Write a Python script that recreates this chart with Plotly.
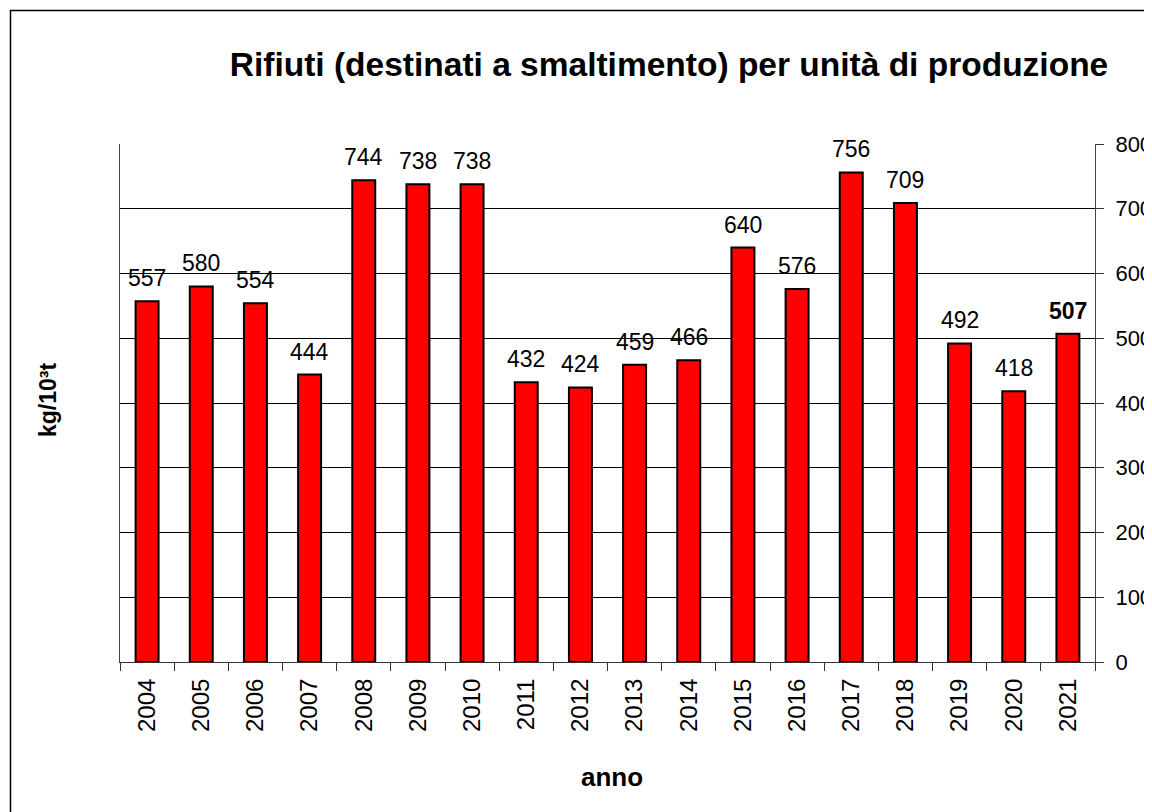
import plotly.graph_objects as go

years = ["2004", "2005", "2006", "2007", "2008", "2009", "2010", "2011", "2012",
         "2013", "2014", "2015", "2016", "2017", "2018", "2019", "2020", "2021"]
values = [557, 580, 554, 444, 744, 738, 738, 432, 424, 459, 466, 640, 576, 756, 709, 492, 418, 507]
labels = [str(v) for v in values[:-1]] + ["<b>%d</b>" % values[-1]]
yticks = [0, 100, 200, 300, 400, 500, 600, 700, 800]

FONT = "Liberation Sans, Arial, sans-serif"
OFF = 8  # browser body margin

W, H = 1152 - OFF, 812 - OFF
L, T = 120 - OFF, 144 - OFF
R = W - (1095 - OFF)
B = H - (662 - OFF)
pw, ph = W - L - R, H - T - B


def px(xp):
    return (xp - OFF - L) / pw


def py(yp):
    return (H - B - (yp - OFF)) / ph


fig = go.Figure(go.Bar(
    x=years, y=values,
    marker=dict(color="#ff0000", line=dict(color="black", width=2)),
    cliponaxis=False,
))

annotations = [dict(x=i, y=v, text=t, xref="x", yref="y", showarrow=False,
                    yanchor="bottom", xanchor="center", yshift=8,
                    font=dict(size=23, family=FONT, color="black"))
               for i, (v, t) in enumerate(zip(values, labels))]
annotations.append(dict(text="<b>kg/10³t</b>", xref="paper", yref="paper",
                        x=px(48), y=py(400), textangle=-90, showarrow=False,
                        font=dict(size=23, family=FONT, color="black"),
                        xanchor="center", yanchor="middle"))
annotations.append(dict(text="<b>anno</b>", xref="paper", yref="paper",
                        x=px(612), y=py(777), showarrow=False,
                        font=dict(size=26, family=FONT, color="black"),
                        xanchor="center", yanchor="middle"))

fig.update_layout(
    width=W, height=H,
    margin=dict(l=L, r=R, t=T, b=B, autoexpand=False),
    paper_bgcolor="white", plot_bgcolor="white",
    bargap=0.576, showlegend=False,
    font=dict(family=FONT, color="black"),
    title=dict(text="<b>Rifiuti (destinati a smaltimento) per unità di produzione</b>",
               font=dict(size=33.5, family=FONT, color="black"),
               x=(669 - OFF) / W, xanchor="center", y=1 - (64 - OFF) / H, yanchor="middle"),
    xaxis=dict(type="category", range=[-0.5, len(years) - 0.5], autorange=False,
               tickangle=-90, tickfont=dict(size=24, family=FONT),
               showline=True, linecolor="#333", linewidth=1,
               ticks="outside", tickson="boundaries", ticklen=8, tickcolor="#333",
               ticklabelstandoff=6, showgrid=False),
    yaxis=dict(side="right", range=[0, 800], tickvals=yticks,
               tickfont=dict(size=22, family=FONT),
               showgrid=True, gridcolor="black", gridwidth=1,
               showline=True, linecolor="#444", linewidth=1, mirror=True,
               ticks="outside", ticklen=8, tickcolor="#333", ticklabelstandoff=7,
               zeroline=False),
    annotations=annotations,
    shapes=[dict(type="rect", xref="paper", yref="paper",
                 x0=px(10.5), x1=px(1180),
                 y0=py(840), y1=py(10.5),
                 line=dict(color="black", width=1.5), fillcolor="rgba(0,0,0,0)", layer="below")],
)

fig.write_html("out.html")
